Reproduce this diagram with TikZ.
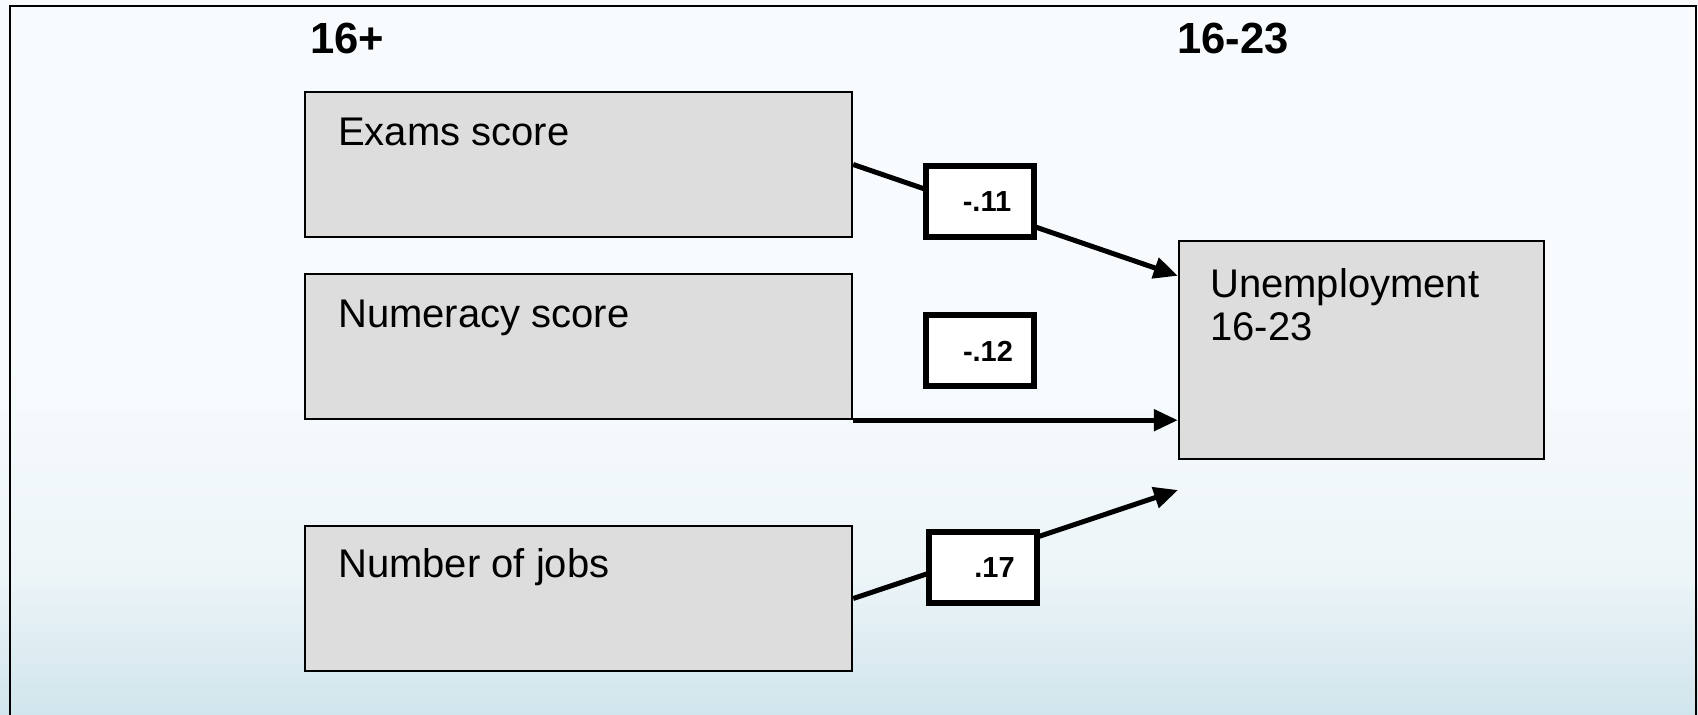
\documentclass[tikz,border=0pt]{standalone}
\usepackage{fontspec}
\setmainfont{Liberation Sans}
\usetikzlibrary{arrows.meta}

\definecolor{bgtop}{HTML}{F7FBFD}
\definecolor{bgmid}{HTML}{EDF5F8}
\definecolor{bgbot}{HTML}{D0E5EC}
\definecolor{boxfill}{HTML}{DDDDDD}

% pale paper: white above, fading into a light blue towards the lower edge
\pgfdeclareverticalshading{paper}{100bp}{color(0bp)=(bgbot); color(25bp)=(bgbot); color(35bp)=(bgmid); color(50bp)=(bgtop); color(100bp)=(bgtop)}

\begin{document}
\begin{tikzpicture}[x=0.5pt,y=-0.5pt,
  inbox/.style={draw=black, line width=1.2pt, fill=boxfill, rectangle, inner sep=0pt,
                minimum width=273.5pt, minimum height=72.5pt},
  coef/.style={draw=black, line width=3pt, fill=white, rectangle, inner sep=0pt,
               minimum width=54pt, minimum height=35.5pt,
               font=\fontsize{14.5}{17}\selectfont\bfseries},
  boxtext/.style={anchor=base west, inner sep=0pt, font=\fontsize{20}{21.5}\selectfont},
  head/.style={anchor=base west, inner sep=0pt, font=\fontsize{21.8}{25}\selectfont\bfseries},
  link/.style={line width=2.5pt, -{Triangle[length=12pt,width=10.5pt]}},
]
\useasboundingbox (0,0) rectangle (1698,715);
\shade[shading=paper] (0,0) rectangle (1698,715);
\draw[line width=1.4pt] (10,720) -- (10,6) -- (1696,6) -- (1696,720);

% column headings
\node[head] (h1) at (310,54) {16+};
\node[head] (h2) at (1177,54) {16-23};

% predictor boxes and outcome box
\node[inbox] (ex) at (578.5,164.5) {};
\node[inbox] (nu) at (578.5,346.5) {};
\node[inbox] (jo) at (578.5,598.5) {};
\node[inbox, minimum width=182.5pt, minimum height=109pt] (un) at (1361.5,350) {};

\node[boxtext] (ext) at ([xshift=17pt,yshift=-27.2pt]ex.north west) {Exams score};
\node[boxtext] (nut) at ([xshift=17pt,yshift=-27.5pt]nu.north west) {Numeracy score};
\node[boxtext] (jot) at ([xshift=17pt,yshift=-26.5pt]jo.north west) {Number of jobs};
% base anchor of a two-line node sits on its last line
\node[boxtext, align=left] (unt) at ([xshift=16pt,yshift=-50.5pt]un.north west) {Unemployment\\16-23};

% paths
\coordinate (jobs-end) at (1178,490);
\draw[link] (ex.east) -- ([yshift=-18pt]un.north west);
\draw[link] (nu.south east) -- (nu.south east -| un.west);
\draw[link] (jo.east) -- (jobs-end);

% path coefficients
\node[coef] (c1) at (980,201.5) {\hspace*{7pt}-.11};
\node[coef] (c2) at (980,351) {\hspace*{8pt}-.12};
\node[coef] (c3) at (983,567.5) {\hspace*{11.5pt}.17};
\end{tikzpicture}
\end{document}
